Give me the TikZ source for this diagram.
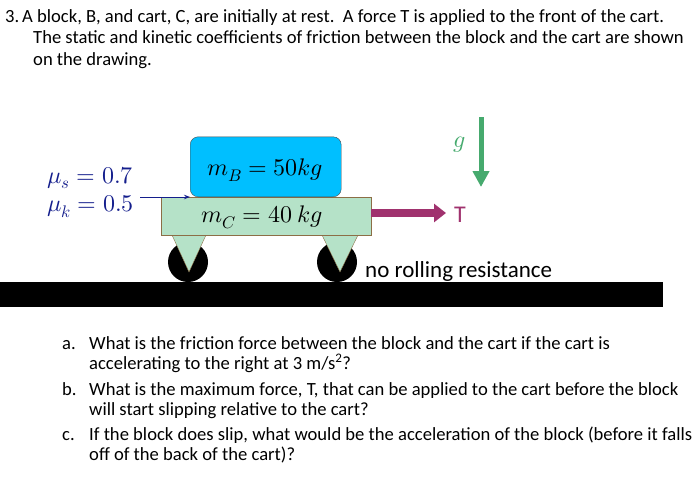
\documentclass[tikz,border=0pt]{standalone}
\usetikzlibrary{arrows.meta}
\usepackage{fontspec}
\setmainfont{Carlito}
\usepackage{unicode-math}
\setmathfont{Latin Modern Math}
\begin{document}
\begin{tikzpicture}[x=1pt,y=-1pt,
  txt/.style={anchor=base west,inner sep=0pt,font=\fontsize{18.6}{22}\selectfont},
  mth/.style={inner sep=0pt,font=\fontsize{24}{28}\selectfont}]
\definecolor{cyanB}{RGB}{0,191,255}
\definecolor{cartG}{RGB}{181,226,200}
\definecolor{cartE}{RGB}{140,110,70}
\definecolor{tMag}{RGB}{160,50,110}
\definecolor{gGreen}{RGB}{70,170,110}
\definecolor{muBlue}{RGB}{20,30,140}
\useasboundingbox (0,0) rectangle (693,499);
% texts
\node[txt] (n3) at (5,22) {3.};
\node[txt] (l1) at (22,22) {A block, B, and cart, C, are initially at rest.\ \ A force T is applied to the front of the cart.};
\node[txt] (l2) at (33,43) {The static and kinetic coefficients of friction between the block and the cart are shown};
\node[txt] (l3) at (33,65) {on the drawing.};
% ground
\fill[black] (0,282) rectangle (663,307);
% wheels
\fill[black] (188,262) circle (20);
\fill[black] (337,262) circle (20);
% legs
\draw[cartE,fill=cartG] (172,235) -- (206,235) -- (189,272) -- cycle;
\draw[cartE,fill=cartG] (322,235) -- (358,235) -- (340,272) -- cycle;
% cart
\node[draw=cartE,fill=cartG,minimum width=210,minimum height=38,inner sep=0pt,anchor=north west] (cart) at (161,197) {};
\node[mth] at (262,217) {$m_C = 40\ kg$};
% block
\node[draw=black!70,fill=cyanB,rounded corners=8pt,minimum width=151,minimum height=60,inner sep=0pt,anchor=south west] (blk) at (190,197) {};
\node[mth] at (265,170) {$m_B = 50kg$};
% T
\node[inner sep=0pt,text=tMag,font=\fontsize{24}{28}\selectfont] (T) at (460,215) {T};
\draw[tMag,line width=8pt,-{Triangle[length=12pt,width=18pt]}] (cart.east |- 0,213) -- (446,213);
% g
\coordinate (g1) at (481,117);
\coordinate (g2) at (481,187);
\draw[gGreen,line width=5pt,-{Triangle[length=16pt,width=16pt]}] (g1) -- (g2);
\node[mth,text=gGreen] (g) at (460,145) {$g$};
% mu
\node[mth,text=muBlue,anchor=west] (mus) at (47,178) {$\mu_s = 0.7$};
\node[mth,text=muBlue,anchor=west] (muk) at (47,207) {$\mu_k = 0.5$};
\coordinate (ba) at (140,197);
\draw[muBlue,thick,-{Stealth[length=6pt]}] (ba) -- (blk.south west);
% rolling
\node[txt,font=\fontsize{23}{26}\selectfont] (nr) at (365,277) {no rolling resistance};
% questions
\node[txt] at (62,349) {a.};
\node[txt] at (89,349) {What is the friction force between the block and the cart if the cart is};
\node[txt] at (89,369) {accelerating to the right at 3 m/s\textsuperscript{2}?};
\node[txt] at (62,395) {b.};
\node[txt] at (89,395) {What is the maximum force, T, that can be applied to the cart before the block};
\node[txt] at (89,415) {will start slipping relative to the cart?};
\node[txt] at (62,440) {c.};
\node[txt] at (89,440) {If the block does slip, what would be the acceleration of the block (before it falls};
\node[txt] at (89,460) {off of the back of the cart)?};
\end{tikzpicture}
\end{document}
